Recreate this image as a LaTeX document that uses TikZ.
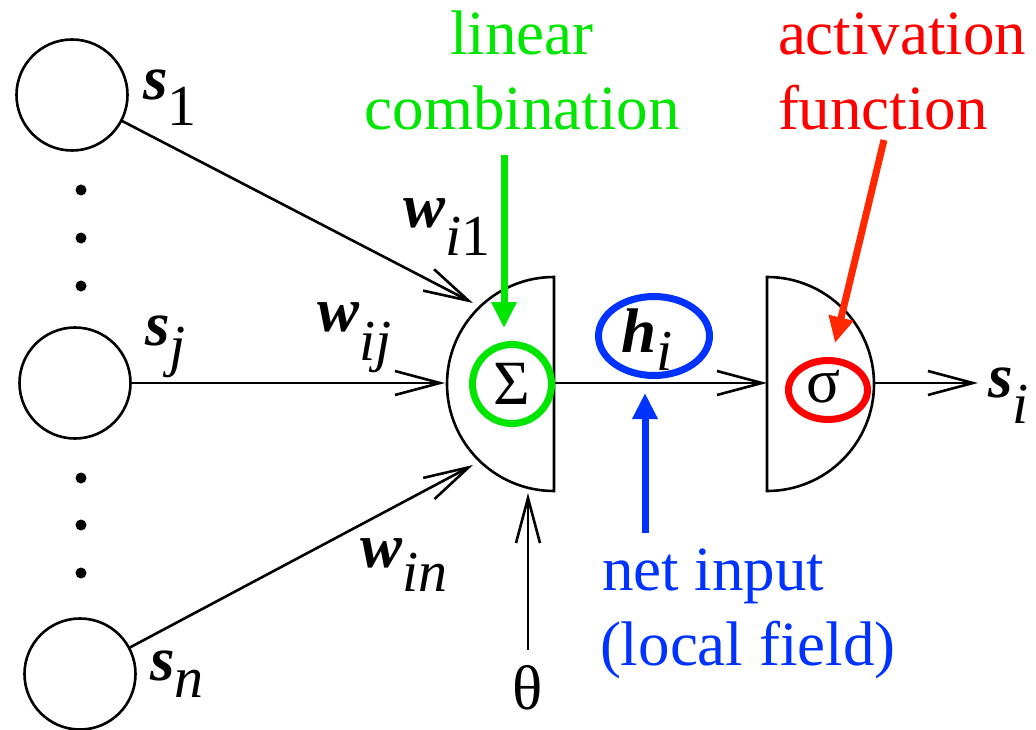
\documentclass[tikz,border=0pt]{standalone}
\usepackage{fontspec}
\setmainfont{Liberation Serif}
\usetikzlibrary{arrows.meta,shapes.geometric}
\definecolor{lgreen}{RGB}{0,230,0}
\definecolor{nblue}{RGB}{0,51,255}
\definecolor{ared}{RGB}{255,0,0}
\definecolor{aorange}{RGB}{255,40,0}
\newcommand{\mylab}[3]{{\bfseries\itshape #1}\raisebox{-#3pt}{\fontsize{58}{60}\selectfont #2}}
\begin{document}
\begin{tikzpicture}[x=1pt,y=-1pt,
  every node/.style={inner sep=0pt, outer sep=0pt, font=\fontsize{63}{75}\selectfont},
  wire/.style={line width=2.6pt},
  inarrow/.style={wire, -{Straight Barb[length=45pt,width=24pt]}},
  inputunit/.style={circle, draw, line width=2.6pt, minimum size=111pt},
  hint/.style={line width=7pt, -{Triangle[length=26pt,width=24pt]}},
  ring/.style={line width=7pt},
  lab/.style={anchor=base west},
]
\useasboundingbox (0,0) rectangle (1036,730);

% input units
\node[inputunit] (s1) at (72,95) {};
\node[inputunit] (sj) at (75,383) {};
\node[inputunit] (sn) at (80,674) {};
\foreach \yy in {190,238,286,478,525,573} \fill (81,\yy) circle[radius=5.5];

% summation unit and activation unit
\draw[wire] (554,277) arc[start angle=-90, end angle=-270, radius=107] -- cycle;
\draw[wire] (767,277) arc[start angle=-90, end angle=90, radius=107] -- cycle;

\coordinate (t1) at (473,303);
\coordinate (tj) at (445,383);
\coordinate (tn) at (473,465);
\coordinate (sumout) at (554,383);
\coordinate (actin) at (767,383);
\coordinate (actout) at (874,383);
\coordinate (outtip) at (978,383);
\coordinate (thetatip) at (528,493);

% connectors
\draw[inarrow] (s1) -- (t1);
\draw[inarrow] (sj) -- (tj);
\draw[inarrow] (sn) -- (tn);
\draw[inarrow] (sumout) -- (actin);
\draw[inarrow] (actout) -- (outtip);
\node[anchor=base] (theta) at (528,709) {θ};
\draw[inarrow, shorten <=15pt] (theta.north) -- (thetatip);

% rings
\node[circle, draw=lgreen, ring, minimum size=79pt] (sum) at (512,384) {Σ};
\node[ellipse, draw=ared, ring, minimum width=79pt, minimum height=59pt] (sig) at (828,390) {};
\node[anchor=base] (sigt) at (823,402) {σ};
\node[ellipse, draw=nblue, ring, minimum width=111pt, minimum height=79pt] (hring) at (654,336) {};

% labels
\node[lab] (ls1) at (143,100) {\mylab{s}{1}{26}};
\node[lab] (lsj) at (145,345) {\mylab{s}{\itshape j}{20}};
\node[lab] (lsn) at (150,680) {\mylab{s}{\itshape n}{17}};
\node[lab] (lw1) at (403,228) {\mylab{w}{{\itshape i}1}{28}};
\node[lab] (lwj) at (317,331) {\mylab{w}{\itshape ij}{29}};
\node[lab] (lwn) at (360,567) {\mylab{w}{\itshape in}{24}};
\node[lab] (lh) at (621,352) {\mylab{h}{\itshape i}{18}};
\node[lab] (lsi) at (988,397) {\mylab{s}{\itshape i}{26}};

% coloured annotations
\node[anchor=base, text=lgreen] (gl1) at (522,55) {linear};
\node[anchor=base, text=lgreen] (gl2) at (522,130) {combination};
\node[anchor=base west, text=ared] (rl1) at (778,55) {activation};
\node[anchor=base west, text=ared] (rl2) at (778,130) {function};
\node[anchor=base west, text=nblue] (bl1) at (602,590) {net input};
\node[anchor=base west, text=nblue] (bl2) at (600,665) {(local field)};

\coordinate (gs) at (504,155);
\coordinate (gt) at (504,328);
\coordinate (bs) at (645,533);
\coordinate (bt) at (645,393);
\coordinate (rs) at (884,140);
\coordinate (rt) at (835,343);
\draw[hint, lgreen] (gs) -- (gt);
\draw[hint, nblue] (bs) -- (bt);
\draw[hint, aorange] (rs) -- (rt);
\end{tikzpicture}
\end{document}
